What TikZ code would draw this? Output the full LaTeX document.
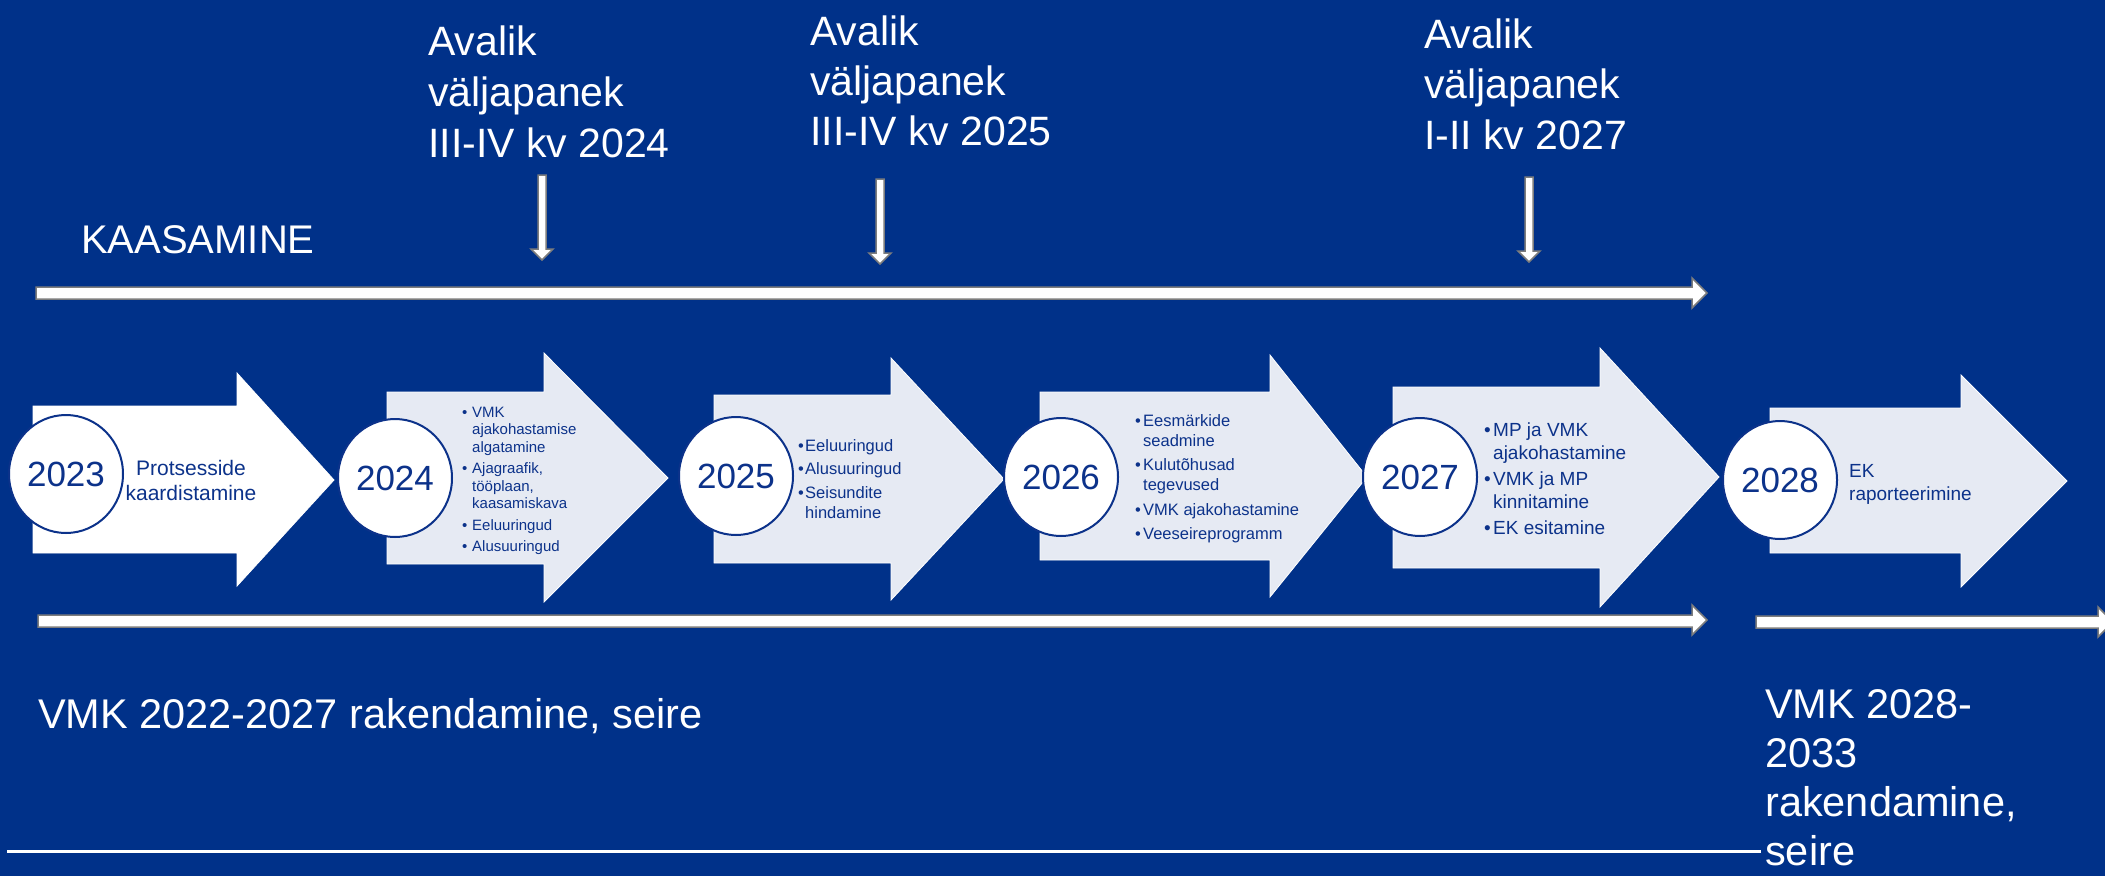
\documentclass[tikz,border=0pt]{standalone}
\usepackage{fontspec}
\setmainfont{Liberation Sans}
\usetikzlibrary{shapes.geometric}
\definecolor{bgblue}{RGB}{0,49,137}
\definecolor{paleblue}{RGB}{230,234,243}
\definecolor{edgegray}{RGB}{125,125,125}
\definecolor{txtblue}{RGB}{12,50,138}
\newcommand\fsz[2]{\fontsize{#1}{#2}\selectfont}
\newcommand\bulw[1]{\makebox[#1][l]{\textbullet}}
\newcommand\indw[1]{\makebox[#1]{}}
\begin{document}
\begin{tikzpicture}[x=1pt,y=-1pt,
  chev/.style={fill=paleblue, draw=white, line width=0.8pt},
  yearcirc/.style={ellipse, draw=txtblue, line width=2pt, fill=white,
    minimum width=114pt, minimum height=118pt, inner sep=0pt,
    text=txtblue, font=\fsz{35}{40}},
  bigtxt/.style={text=white, inner sep=0pt, anchor=base west, align=left, font=\fsz{41}{50.5}},
  smalltxt/.style={text=txtblue, inner sep=0pt, anchor=base west, align=left},
  blockarrow/.style={fill=white, draw=edgegray, line width=1.5pt, line join=miter},
  downarr/.pic={\filldraw[blockarrow] (-4,0) -- (4,0) -- (4,74) -- (11,74) -- (0,85) -- (-11,74) -- (-4,74) -- cycle;}
]
\fill[bgblue] (0,0) rectangle (2105,876);
\useasboundingbox (0,0) rectangle (2105,876);

% long block arrows
\filldraw[blockarrow] (36,287) -- (1692,287) -- (1692,278) -- (1707,293) -- (1692,308) -- (1692,299) -- (36,299) -- cycle;
\filldraw[blockarrow] (38,615) -- (1692,615) -- (1692,605) -- (1707,620) -- (1692,635) -- (1692,627) -- (38,627) -- cycle;
\filldraw[blockarrow] (1756,616) -- (2098,616) -- (2098,607) -- (2113,622) -- (2098,637) -- (2098,628) -- (1756,628) -- cycle;

% down arrows
\pic at (542,175) {downarr};
\pic at (880,179) {downarr};
\pic at (1529,177) {downarr};

% chevrons
\filldraw[chev, fill=white] (33,406) -- (237,406) -- (237,373) -- (334,480) -- (237,586) -- (237,553) -- (33,553) -- cycle;
\filldraw[chev] (387,392) -- (544,392) -- (544,353) -- (668,478) -- (544,602) -- (544,564) -- (387,564) -- cycle;
\filldraw[chev] (714,395) -- (891,395) -- (891,358) -- (1004,479) -- (891,600) -- (891,563) -- (714,563) -- cycle;
\filldraw[chev] (1040,392) -- (1270,392) -- (1270,355) -- (1367,477) -- (1270,597) -- (1270,560) -- (1040,560) -- cycle;
\filldraw[chev] (1393,387) -- (1600,387) -- (1600,348) -- (1719,477) -- (1600,607) -- (1600,568) -- (1393,568) -- cycle;
\filldraw[chev] (1770,408) -- (1961,408) -- (1961,375) -- (2067,481) -- (1961,587) -- (1961,553) -- (1770,553) -- cycle;

% year circles
\node[yearcirc] (y2023) at (66,474) {2023};
\node[yearcirc] (y2024) at (395,478) {2024};
\node[yearcirc] (y2025) at (736,476) {2025};
\node[yearcirc] (y2026) at (1061,477) {2026};
\node[yearcirc] (y2027) at (1420,477) {2027};
\node[yearcirc] (y2028) at (1780,480) {2028};

% chevron texts (anchored at the baseline of the last line)
\node[smalltxt, anchor=base, align=center, font=\fsz{21}{25}] (t2023) at (191,500) {Protsesside\\kaardistamine};
\node[smalltxt, font=\fsz{15}{17.5}] (t2024) at (462,551.5)
  {\bulw{10pt}VMK\\\indw{10pt}ajakohastamise\\\indw{10pt}algatamine\\[4pt]
   \bulw{10pt}Ajagraafik,\\\indw{10pt}tööplaan,\\\indw{10pt}kaasamiskava\\[4pt]
   \bulw{10pt}Eeluuringud\\[4pt]\bulw{10pt}Alusuuringud};
\node[smalltxt, font=\fsz{16.5}{20}] (t2025) at (798,518)
  {\bulw{7pt}Eeluuringud\\[3pt]\bulw{7pt}Alusuuringud\\[4pt]\bulw{7pt}Seisundite\\\indw{7pt}hindamine};
\node[smalltxt, font=\fsz{16.5}{20}] (t2026) at (1135,539.5)
  {\bulw{8pt}Eesmärkide\\\indw{8pt}seadmine\\[4.5pt]\bulw{8pt}Kulutõhusad\\\indw{8pt}tegevused\\[4.5pt]
   \bulw{8pt}VMK ajakohastamine\\[4.5pt]\bulw{8pt}Veeseireprogramm};
\node[smalltxt, font=\fsz{19}{23}] (t2027) at (1484,534)
  {\bulw{9pt}MP ja VMK\\\indw{9pt}ajakohastamine\\[3pt]\bulw{9pt}VMK ja MP\\\indw{9pt}kinnitamine\\[3pt]\bulw{9pt}EK esitamine};
\node[smalltxt, font=\fsz{19}{23}] (t2028) at (1849,500) {EK\\raporteerimine};

% white texts (anchored at the baseline of the last line)
\node[bigtxt, font=\fsz{41}{51}] (av2024) at (428,157) {Avalik\\väljapanek\\III-IV kv 2024};
\node[bigtxt, font=\fsz{41}{50}] (av2025) at (810,145) {Avalik\\väljapanek\\III-IV kv 2025};
\node[bigtxt] (av2027) at (1424,149) {Avalik\\väljapanek\\I-II kv 2027};
\node[bigtxt, font=\fsz{40}{48}] (kaas) at (81,253) {KAASAMINE};
\node[bigtxt, font=\fsz{41.5}{50}] (vmk1) at (38,728) {VMK 2022-2027 rakendamine, seire};
\node[bigtxt, font=\fsz{41.5}{49}] (vmk2) at (1765,865) {VMK 2028-\\2033\\rakendamine,\\seire};

% thin line
\draw[white, line width=3pt] (7,851) -- (1761,851);
\end{tikzpicture}
\end{document}
